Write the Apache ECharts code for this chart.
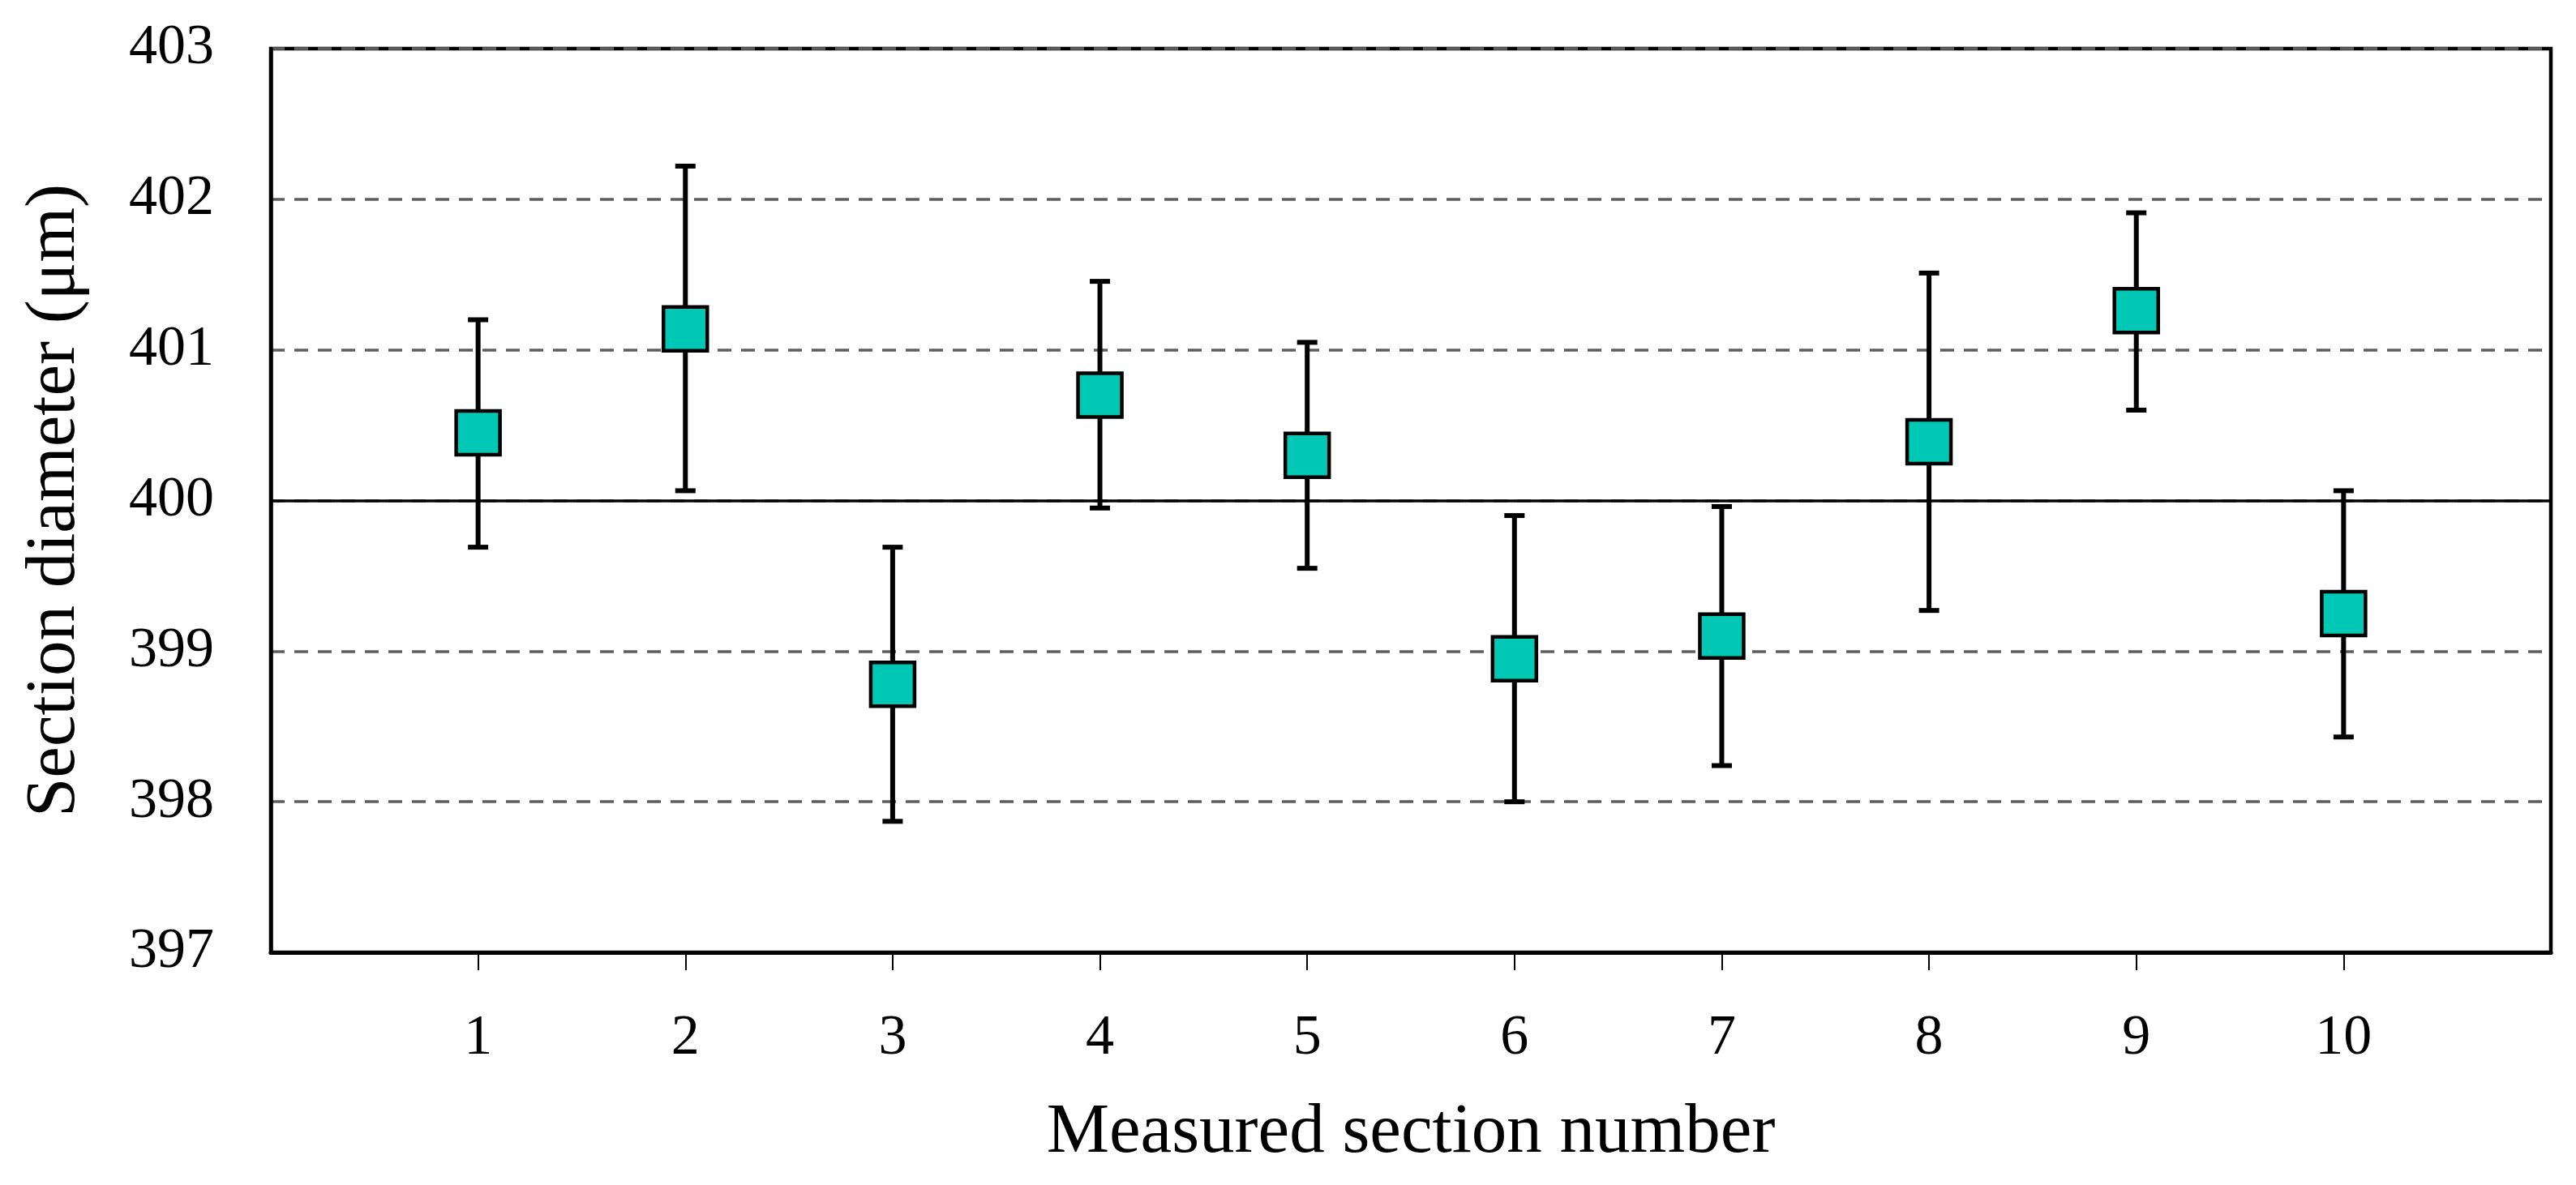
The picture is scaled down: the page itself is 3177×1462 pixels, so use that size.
<!DOCTYPE html>
<html>
<head>
<meta charset="utf-8">
<script src="https://cdn.jsdelivr.net/npm/echarts@6/dist/echarts.min.js"></script>
<style>
  html, body { margin: 0; padding: 0; background: #ffffff; }
  #chart { width: 3177px; height: 1462px; }
</style>
</head>
<body>
<div id="chart"></div>
<script>
// ---- data ----
const sections = [1, 2, 3, 4, 5, 6, 7, 8, 9, 10];
const means    = [400.45, 401.14, 398.78, 400.70, 400.30, 398.95, 399.10, 400.39, 401.26, 399.25];
const upper    = [401.20, 402.22, 399.69, 401.455, 401.05, 399.90, 399.96, 401.51, 401.91, 400.065];
const lower    = [399.69, 400.065, 397.87, 399.95, 399.55, 398.00, 398.24, 399.27, 400.60, 398.43];
const yTicks   = [397, 398, 399, 400, 401, 402, 403];
const xTitle = 'Measured section number';
const yTitle = 'Section diameter (\u03bcm)';

const FONT = '"Liberation Serif", "DejaVu Serif", serif';

const chart = echarts.init(document.getElementById('chart'), null, { renderer: 'canvas' });

const errData = sections.map((s, i) => [s, lower[i], upper[i]]);
const ptData = sections.map((s, i) => [s, means[i]]);

chart.setOption({
  backgroundColor: '#ffffff',
  animation: false,
  grid: {
    left: 334, right: 31, top: 60, bottom: 287,
    show: true, borderColor: '#000000', borderWidth: 4.5, backgroundColor: 'transparent'
  },
  xAxis: {
    type: 'value',
    min: 0, max: 11, interval: 1,
    name: xTitle,
    nameLocation: 'middle',
    nameGap: 180,
    nameTextStyle: { fontFamily: FONT, fontSize: 87, color: '#000' },
    axisLine: { show: true, onZero: false, lineStyle: { color: '#000', width: 5 } },
    axisTick: { show: true, length: 22, inside: false, customValues: sections, lineStyle: { color: '#000', width: 2 } },
    axisLabel: { show: true, margin: 72, customValues: sections, fontFamily: FONT, fontSize: 70, color: '#000' },
    splitLine: { show: false }
  },
  yAxis: {
    type: 'value',
    min: 397, max: 403, interval: 1,
    name: yTitle,
    nameLocation: 'middle',
    nameGap: 222,
    nameRotate: 90,
    nameTextStyle: { fontFamily: FONT, fontSize: 87, color: '#000' },
    axisLine: { show: true, lineStyle: { color: '#000', width: 4.5 } },
    axisTick: { show: false },
    axisLabel: { show: true, margin: 70, fontFamily: FONT, fontSize: 70, color: '#000',
      formatter: v => (yTicks.indexOf(v) >= 0 ? String(v) : '') },
    splitLine: { show: true, lineStyle: { color: '#5e5e5e', width: 3.5, type: [17, 12] } }
  },
  series: [
    {
      type: 'custom',
      z: 3,
      data: errData,
      encode: { x: 0, y: [1, 2] },
      renderItem: function (params, api) {
        const x = api.value(0);
        const lo = api.coord([x, api.value(1)]);
        const hi = api.coord([x, api.value(2)]);
        const half = 12.5;
        const st = { stroke: '#000', lineWidth: 6 };
        return {
          type: 'group',
          children: [
            { type: 'line', shape: { x1: hi[0], y1: hi[1], x2: lo[0], y2: lo[1] }, style: st },
            { type: 'line', shape: { x1: hi[0] - half, y1: hi[1], x2: hi[0] + half, y2: hi[1] }, style: st },
            { type: 'line', shape: { x1: lo[0] - half, y1: lo[1], x2: lo[0] + half, y2: lo[1] }, style: st }
          ]
        };
      },
      markLine: {
        silent: true,
        symbol: ['none', 'none'],
        label: { show: false },
        lineStyle: { color: '#000', width: 3.5, type: 'solid' },
        data: [{ yAxis: 400 }]
      }
    },
    {
      type: 'scatter',
      z: 5,
      data: ptData,
      symbol: 'rect',
      symbolSize: 54,
      itemStyle: { color: '#00C8B4', borderColor: '#000', borderWidth: 4.5, opacity: 1 }
    }
  ]
});
</script>
</body>
</html>
